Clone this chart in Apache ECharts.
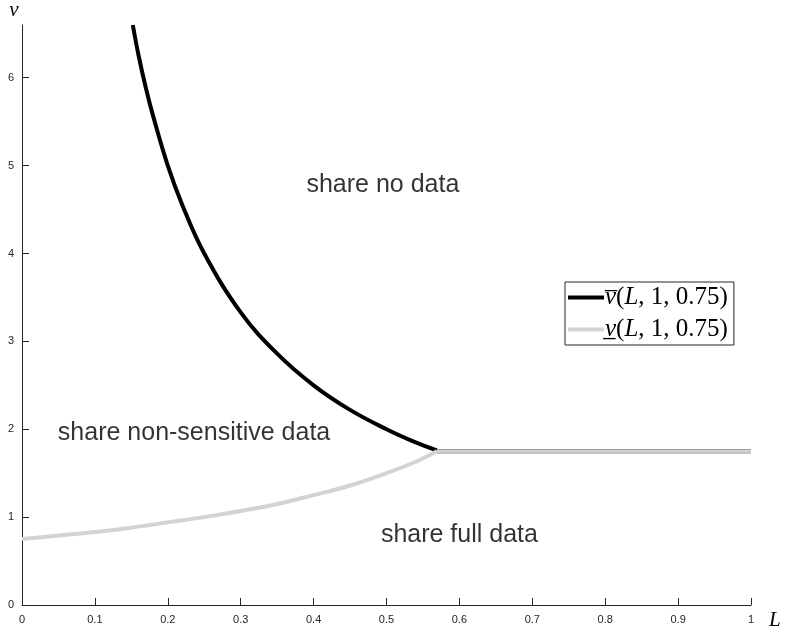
<!DOCTYPE html>
<html>
<head>
<meta charset="utf-8">
<script src="https://cdn.jsdelivr.net/npm/echarts@6/dist/echarts.min.js"></script>
<style>
  html, body { margin: 0; padding: 0; background: #fff; }
  #main { width: 797px; height: 633px; }
</style>
</head>
<body>
<div id="main"></div>
<script>
// upper threshold v-bar(L,1,0.75)
var upperL = [0.152, 0.16, 0.17, 0.18, 0.2, 0.22, 0.25, 0.3, 0.35, 0.4, 0.45, 0.5, 0.54, 0.569];
var upperV = [6.6, 6.25, 5.88, 5.56, 5.0, 4.55, 4.0, 3.33, 2.86, 2.5, 2.22, 2.0, 1.85, 1.76];

// lower threshold v-underline(L,1,0.75)
var lowerL = [0, 0.05, 0.1, 0.15, 0.2, 0.25, 0.3, 0.35, 0.4, 0.45, 0.5, 0.54, 0.569];
var lowerV = [0.75, 0.79, 0.83, 0.88, 0.94, 1.0, 1.07, 1.15, 1.25, 1.36, 1.5, 1.63, 1.75];

// both thresholds coincide on the right
var flatL = [0.569, 1];
var flatV = [1.75, 1.75];

var xTicks = [0, 0.1, 0.2, 0.3, 0.4, 0.5, 0.6, 0.7, 0.8, 0.9, 1];
var yTicks = [0, 1, 2, 3, 4, 5, 6];

var regionNames = ['share no data', 'share non-sensitive data', 'share full data'];
var regionL = [0.495, 0.236, 0.6];
var regionV = [4.78, 1.96, 0.8];

function zip(a, b) {
    return a.map(function (x, i) { return [x, b[i]]; });
}

var myChart = echarts.init(document.getElementById('main'));
var axisColor = '#262626';

var option = {
    animation: false,
    grid: { left: 22, right: 46, top: 22, bottom: 28 },
    legend: {
        orient: 'vertical',
        left: 565,
        top: 282,
        padding: [3, 6, 3, 3],
        itemGap: 7,
        itemWidth: 36,
        itemHeight: 4,
        icon: 'rect',
        borderColor: axisColor,
        borderWidth: 1,
        backgroundColor: '#fff',
        data: ['upper', 'lower'],
        formatter: function (name) {
            var v = name === 'upper' ? 'v\u0305' : 'v\u0332';
            return '{i|' + v + '}({i|L}, 1, 0.75)';
        },
        textStyle: {
            fontFamily: 'Liberation Serif',
            fontSize: 25,
            color: '#000',
            padding: [0, 0, 0, -4],
            rich: {
                i: { fontFamily: 'Liberation Serif', fontStyle: 'italic', fontSize: 25, color: '#000' }
            }
        }
    },
    xAxis: {
        type: 'value',
        min: 0,
        max: 1,
        interval: 0.1,
        name: 'L',
        nameLocation: 'end',
        nameGap: 18,
        nameTextStyle: {
            fontFamily: 'Liberation Serif', fontStyle: 'italic', fontSize: 21,
            color: '#000', verticalAlign: 'top', padding: [5, 0, 0, 0]
        },
        axisLine: { lineStyle: { color: axisColor, width: 1 } },
        axisTick: { inside: true, length: 7, lineStyle: { color: axisColor }, customValues: xTicks },
        axisLabel: {
            customValues: xTicks, margin: 9, fontSize: 11,
            fontFamily: 'Liberation Sans', color: axisColor,
            formatter: function (v) { return String(v); }
        },
        splitLine: { show: false }
    },
    yAxis: {
        type: 'value',
        min: 0,
        max: 6.6,
        interval: 1,
        name: 'v',
        nameLocation: 'end',
        nameGap: 4,
        nameTextStyle: {
            fontFamily: 'Liberation Serif', fontStyle: 'italic', fontSize: 21,
            color: '#000', align: 'center', padding: [0, 16, 0, 0]
        },
        axisLine: { show: true, lineStyle: { color: axisColor, width: 1 } },
        axisTick: { show: true, inside: true, length: 7, lineStyle: { color: axisColor }, customValues: yTicks },
        axisLabel: {
            customValues: yTicks, margin: 8, fontSize: 11,
            fontFamily: 'Liberation Sans', color: axisColor
        },
        splitLine: { show: false }
    },
    series: [{
        name: 'upper',
        type: 'line',
        data: zip(upperL, upperV),
        smooth: 0.4,
        showSymbol: false,
        color: '#000',
        lineStyle: { color: '#000', width: 4 },
        z: 2
    }, {
        name: 'upperFlat',
        type: 'line',
        data: zip(flatL, flatV),
        showSymbol: false,
        color: '#000',
        lineStyle: { color: '#8a8a8a', width: 4.5 },
        z: 2
    }, {
        name: 'lower',
        type: 'line',
        data: zip(lowerL, lowerV),
        smooth: 0.4,
        showSymbol: false,
        color: '#d3d3d3',
        lineStyle: { color: '#d3d3d3', width: 4 },
        z: 3
    }, {
        name: 'lowerFlat',
        type: 'line',
        data: zip(flatL, flatV),
        showSymbol: false,
        color: '#d3d3d3',
        lineStyle: { color: '#d3d3d3', width: 3 },
        z: 3
    }, {
        name: 'regions',
        type: 'scatter',
        symbolSize: 0,
        silent: true,
        data: regionNames.map(function (n, i) {
            return { name: n, value: [regionL[i], regionV[i]] };
        }),
        label: {
            show: true,
            position: 'inside',
            formatter: '{b}',
            fontFamily: 'Liberation Sans',
            fontSize: 25,
            color: '#000',
            textBorderWidth: 0
        }
    }]
};

myChart.setOption(option);
</script>
</body>
</html>
